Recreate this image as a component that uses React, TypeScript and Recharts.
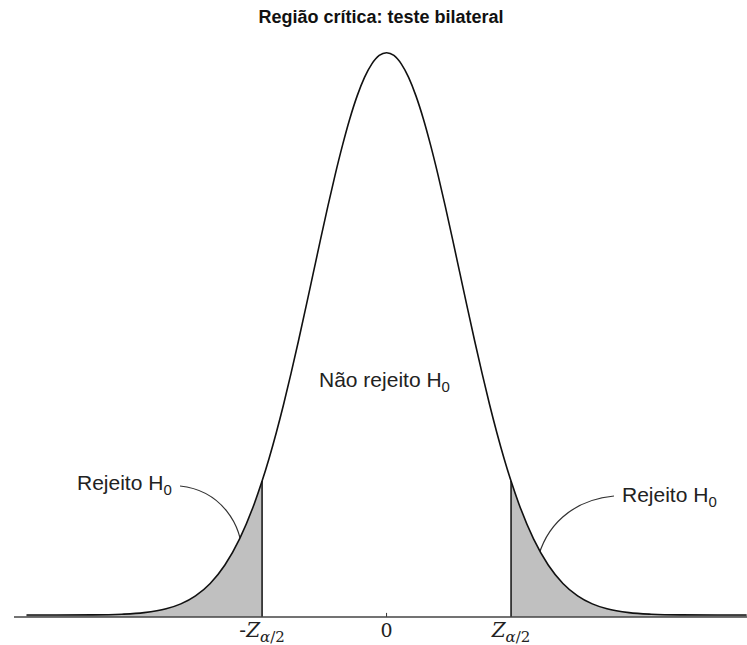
import { ComposedChart, Line, Area, XAxis, YAxis, ReferenceLine, Customized } from "recharts";

// values (standardised scale)
const zPoints = [
  -4.9, -4.5, -4.0, -3.6, -3.3, -3.0, -2.8, -2.6, -2.4, -2.2, -2.0, -1.8, -1.694, -1.6, -1.5, -1.4, -1.3, -1.2,
  -1.1, -1.0, -0.9, -0.8, -0.7, -0.6, -0.5, -0.4, -0.3, -0.2, -0.1, 0, 0.1, 0.2, 0.3, 0.4, 0.5, 0.6, 0.7, 0.8,
  0.9, 1.0, 1.1, 1.2, 1.3, 1.4, 1.5, 1.6, 1.694, 1.8, 2.0, 2.2, 2.4, 2.6, 2.8, 3.0, 3.3, 3.6, 4.0, 4.5, 4.9,
];
const density = [
  0, 0, 0.0001, 0.0006, 0.0017, 0.0044, 0.0079, 0.0136, 0.0224, 0.0355, 0.054, 0.079, 0.095, 0.1109, 0.1295,
  0.1497, 0.1714, 0.1942, 0.2179, 0.242, 0.2661, 0.2897, 0.3123, 0.3332, 0.3521, 0.3683, 0.3814, 0.391, 0.397,
  0.3989, 0.397, 0.391, 0.3814, 0.3683, 0.3521, 0.3332, 0.3123, 0.2897, 0.2661, 0.242, 0.2179, 0.1942, 0.1714,
  0.1497, 0.1295, 0.1109, 0.095, 0.079, 0.054, 0.0355, 0.0224, 0.0136, 0.0079, 0.0044, 0.0017, 0.0006, 0.0001, 0,
  0,
];
const critical = 1.694;
const critHeight = 0.095;
const tickValues = [-critical, 0, critical];
const tickLabels = ["-Z", "0", "Z"];

const title = "Região crítica: teste bilateral";
const centerLabel = "Não rejeito H";
const sideLabel = "Rejeito H";

const X_MIN = -5.07;
const X_MAX = 4.905;
const Y_MIN = -0.0014;
const Y_MAX = 0.42;

const data = zPoints.map((z, i) => ({
  z,
  density: density[i],
  tail: Math.abs(z) >= critical ? density[i] : null,
}));

const labelFont = "'Liberation Sans', Arial, sans-serif";
const mathFont = "'DejaVu Serif', 'Liberation Serif', serif";

function MathTick(props: any) {
  const { x, y, index } = props;
  const label = tickLabels[index];
  const base = y + 12;
  if (label === "0") {
    return (
      <text x={x} y={base} textAnchor="middle" fontFamily={mathFont} fontSize={19} fill="#222">
        0
      </text>
    );
  }
  return (
    <text x={x} y={base} textAnchor="middle" fontFamily={mathFont} fontSize={20} fill="#222">
      {label.startsWith("-") && <tspan>-</tspan>}
      <tspan fontStyle="italic">Z</tspan>
      <tspan fontSize={15} dy={5}>
        <tspan fontStyle="italic">α</tspan>/2
      </tspan>
    </text>
  );
}

function Labelled({ x, y, text }: { x: number; y: number; text: string }) {
  return (
    <text x={x} y={y} fontFamily={labelFont} fontSize={21} fill="#222">
      {text}
      <tspan fontSize={15} dy={5}>
        0
      </tspan>
    </text>
  );
}

function Annotations() {
  return (
    <g>
      <text
        x={381}
        y={23}
        textAnchor="middle"
        fontFamily={labelFont}
        fontWeight="bold"
        fontSize={18}
        fill="#111"
      >
        {title}
      </text>
      <Labelled x={319} y={387} text={centerLabel} />
      <Labelled x={77} y={490} text={sideLabel} />
      <Labelled x={622} y={502} text={sideLabel} />
      <path d="M180,486 C218,490 246,522 242,567" fill="none" stroke="#333" strokeWidth={1.2} />
      <path d="M614,496 C572,500 545,526 537,562" fill="none" stroke="#333" strokeWidth={1.2} />
    </g>
  );
}

export default function App() {
  return (
    <div style={{ position: "absolute", left: 0, top: 0, background: "#fff" }}>
      <ComposedChart width={747} height={645} data={data} margin={{ top: 23, right: 0, left: 14, bottom: 0 }}>
        <XAxis
          dataKey="z"
          type="number"
          domain={[X_MIN, X_MAX]}
          ticks={tickValues}
          tick={<MathTick />}
          tickLine={false}
          height={28}
          stroke="#444"
          strokeWidth={1.5}
          interval={0}
        />
        <YAxis hide type="number" domain={[Y_MIN, Y_MAX]} />
        <Area
          dataKey="tail"
          type="monotone"
          stroke="none"
          fill="#c0c0c0"
          fillOpacity={1}
          baseValue={Y_MIN}
          connectNulls={false}
          isAnimationActive={false}
        />
        <ReferenceLine
          segment={[
            { x: -critical, y: Y_MIN },
            { x: -critical, y: critHeight },
          ]}
          stroke="#111"
          strokeWidth={1.5}
        />
        <ReferenceLine
          segment={[
            { x: critical, y: Y_MIN },
            { x: critical, y: critHeight },
          ]}
          stroke="#111"
          strokeWidth={1.5}
        />
        <ReferenceLine
          segment={[
            { x: 0, y: Y_MIN },
            { x: 0, y: 0.0015 },
          ]}
          stroke="#333"
          strokeWidth={1}
        />
        <Line
          dataKey="density"
          type="monotone"
          stroke="#111"
          strokeWidth={1.6}
          dot={false}
          isAnimationActive={false}
        />
        <Customized component={Annotations} />
      </ComposedChart>
    </div>
  );
}
